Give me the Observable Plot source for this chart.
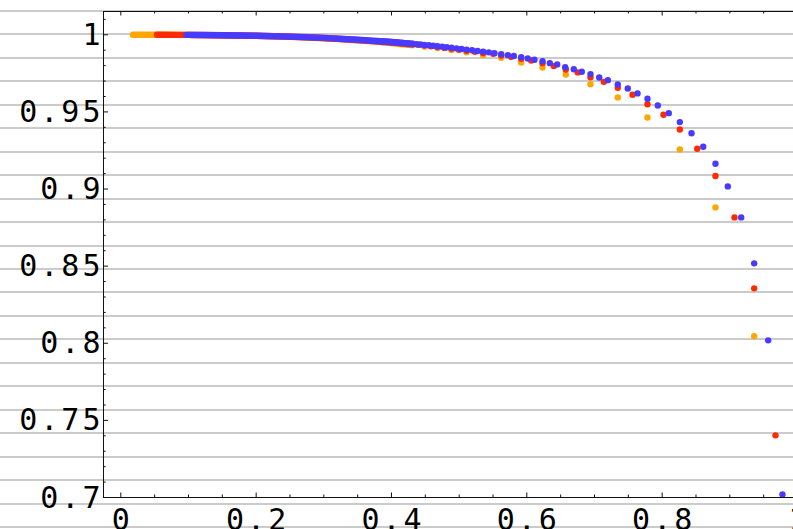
<!DOCTYPE html>
<html><head><meta charset="utf-8">
<script src="https://cdn.jsdelivr.net/npm/d3@7"></script>
<script src="https://cdn.jsdelivr.net/npm/@observablehq/plot@0.6"></script>
<style>
html,body{margin:0;padding:0;overflow:hidden;background:#fff;}
#chart{width:793px;height:529px;background:repeating-linear-gradient(to bottom, rgba(0,0,0,0) 0px, rgba(0,0,0,0) 10px, #cbcbcb 10px, #cbcbcb 12px, rgba(0,0,0,0) 12px, rgba(0,0,0,0) 23.4545px);}
</style></head><body><div id="chart"></div>
<script>
// ---- tick values ----
const xMajor = [0, 0.2, 0.4, 0.6, 0.8, 1];
const xMinor = [0.05, 0.1, 0.15, 0.25, 0.3, 0.35, 0.45, 0.5, 0.55, 0.65, 0.7, 0.75, 0.85, 0.9, 0.95];
const yMajor = [0.7, 0.75, 0.8, 0.85, 0.9, 0.95, 1];
const yMinor = [0.71, 0.72, 0.73, 0.74, 0.76, 0.77, 0.78, 0.79, 0.81, 0.82, 0.83, 0.84, 0.86, 0.87, 0.88, 0.89, 0.91, 0.92, 0.93, 0.94, 0.96, 0.97, 0.98, 0.99, 1.01];
const xDomain = [-0.0256, 0.9941];
const yDomain = [0.7, 1.0151];

// ---- dense (overlapping) runs of points, drawn as a continuous band ----
const orangeBandX = [0.018, 0.1, 0.2, 0.3, 0.35, 0.4, 0.43];
const orangeBandY = [1.0, 0.99992, 0.9993, 0.9977, 0.9964, 0.9947, 0.9933];
const redBandX = [0.0535, 0.1, 0.2, 0.3, 0.35, 0.4, 0.43];
const redBandY = [1.0, 0.99992, 0.99935, 0.9979, 0.9966, 0.9950, 0.9938];
const blueBandX = [0.097, 0.15, 0.2, 0.25, 0.3, 0.35, 0.4, 0.43];
const blueBandY = [0.99993, 0.99973, 0.99938, 0.99881, 0.99798, 0.99682, 0.99531, 0.9942];

// ---- separated points ----
const orangeX = [0.3868, 0.4001, 0.4149, 0.4311, 0.4488, 0.4680, 0.4887, 0.5109, 0.5355, 0.5621, 0.5917, 0.6232, 0.6576, 0.6941, 0.7344, 0.7783, 0.8261, 0.8788, 0.9360];
const orangeY = [0.9952, 0.9947, 0.9941, 0.9933, 0.9924, 0.9914, 0.9901, 0.9886, 0.9868, 0.9851, 0.9820, 0.9788, 0.9743, 0.9680, 0.9594, 0.9464, 0.9257, 0.8881, 0.8045];

const redX = [0.3868, 0.3934, 0.4001, 0.4074, 0.4149, 0.4229, 0.4311, 0.4399, 0.4488, 0.4584, 0.4680, 0.4784, 0.4887, 0.4998, 0.5109, 0.5233, 0.5355, 0.5503, 0.5621, 0.5769, 0.5917, 0.6065, 0.6232, 0.6399, 0.6576, 0.6753, 0.6941, 0.7138, 0.7344, 0.7562, 0.7783, 0.8020, 0.8261, 0.8518, 0.8788, 0.9069, 0.9360, 0.9675];
const redY = [0.9955, 0.9954, 0.9951, 0.9949, 0.9945, 0.9943, 0.9939, 0.9935, 0.9930, 0.9926, 0.9921, 0.9915, 0.9910, 0.9903, 0.9897, 0.9890, 0.9882, 0.9877, 0.9866, 0.9857, 0.9844, 0.9833, 0.9816, 0.9797, 0.9775, 0.9756, 0.9725, 0.9695, 0.9657, 0.9611, 0.9550, 0.9482, 0.9386, 0.9261, 0.9084, 0.8816, 0.8356, 0.7403];

const blueX = [0.3868, 0.3912, 0.3956, 0.4001, 0.4049, 0.4099, 0.4149, 0.4203, 0.4256, 0.4311, 0.4370, 0.4429, 0.4488, 0.4552, 0.4617, 0.4680, 0.4750, 0.4817, 0.4887, 0.4961, 0.5035, 0.5109, 0.5191, 0.5273, 0.5355, 0.5438, 0.5522, 0.5621, 0.5719, 0.5808, 0.5917, 0.6014, 0.6113, 0.6232, 0.6340, 0.6449, 0.6567, 0.6694, 0.6812, 0.6941, 0.7070, 0.7197, 0.7344, 0.7492, 0.7636, 0.7783, 0.7936, 0.8098, 0.8261, 0.8434, 0.8607, 0.8788, 0.8970, 0.9168, 0.9360, 0.9567, 0.9778];
const blueY = [0.9957, 0.9956, 0.9955, 0.9953, 0.9951, 0.9950, 0.9948, 0.9946, 0.9944, 0.9942, 0.9939, 0.9937, 0.9934, 0.9932, 0.9929, 0.9926, 0.9923, 0.9919, 0.9916, 0.9912, 0.9908, 0.9904, 0.9900, 0.9895, 0.9890, 0.9886, 0.9881, 0.9874, 0.9868, 0.9862, 0.9855, 0.9846, 0.9838, 0.9829, 0.9816, 0.9808, 0.9790, 0.9777, 0.9760, 0.9745, 0.9723, 0.9706, 0.9678, 0.9652, 0.9620, 0.9585, 0.9542, 0.9492, 0.9434, 0.9362, 0.9274, 0.9164, 0.9017, 0.8816, 0.8518, 0.8019, 0.7019];

const colors = {orange: "#ffa600", red: "#ff2b00", blue: "#4a3aff"};

const zipXY = (xs, ys) => xs.map((x, i) => ({x, y: ys[i]}));

const W = 793, H = 529, mL = 103, mT = 11, mB = 32, mR = 0;
const fw = W - mL - mR, fh = H - mT - mB;
const R = 3.2;
const fmt = d => String(+d.toFixed(2));
const font = {fontFamily: "DejaVu Sans Mono", fontSize: 30, fill: "#000"};

const chart = Plot.plot({
  width: W, height: H,
  marginLeft: mL, marginTop: mT, marginBottom: mB, marginRight: mR,
  style: {background: "transparent", letterSpacing: "3px", fontFamily: "DejaVu Sans Mono"},
  x: {domain: xDomain, label: null},
  y: {domain: yDomain, label: null},
  marks: [
    // series
    Plot.line(zipXY(orangeBandX, orangeBandY), {x: "x", y: "y", stroke: colors.orange, strokeWidth: 2*R, strokeLinecap: "round", curve: "catmull-rom"}),
    Plot.dot(zipXY(orangeX, orangeY), {x: "x", y: "y", r: R, fill: colors.orange}),
    Plot.line(zipXY(redBandX, redBandY), {x: "x", y: "y", stroke: colors.red, strokeWidth: 2*R, strokeLinecap: "round", curve: "catmull-rom"}),
    Plot.dot(zipXY(redX, redY), {x: "x", y: "y", r: R, fill: colors.red}),
    Plot.line(zipXY(blueBandX, blueBandY), {x: "x", y: "y", stroke: colors.blue, strokeWidth: 2*R, strokeLinecap: "round", curve: "catmull-rom"}),
    Plot.dot(zipXY(blueX, blueY), {x: "x", y: "y", r: R, fill: colors.blue}),
    // frame (left, bottom, top)
    Plot.ruleX([xDomain[0]], {stroke: "#111"}),
    Plot.ruleY([yDomain[0], yDomain[1]], {stroke: "#111"}),
    // inward ticks
    Plot.tickX(xMajor, {x: d => d, insetTop: fh - 4.5, stroke: "#111"}),
    Plot.tickX(xMinor, {x: d => d, insetTop: fh - 2.5, stroke: "#111"}),
    Plot.tickX(xMajor, {x: d => d, insetBottom: fh - 4.5, stroke: "#111"}),
    Plot.tickX(xMinor, {x: d => d, insetBottom: fh - 2.5, stroke: "#111"}),
    Plot.tickY(yMajor, {y: d => d, insetRight: fw - 5, stroke: "#111"}),
    Plot.tickY(yMinor, {y: d => d, insetRight: fw - 2.7, stroke: "#111"}),
    // labels
    Plot.axisX({ticks: xMajor, tickSize: 0, tickPadding: 11, tickFormat: fmt, label: null, ...font, dx: 1.5}),
    Plot.axisY({ticks: yMajor, tickSize: 0, tickPadding: 0, tickFormat: fmt, label: null, ...font, dy: 0.5})
  ]
});
document.getElementById("chart").appendChild(chart);
</script>
</body></html>
